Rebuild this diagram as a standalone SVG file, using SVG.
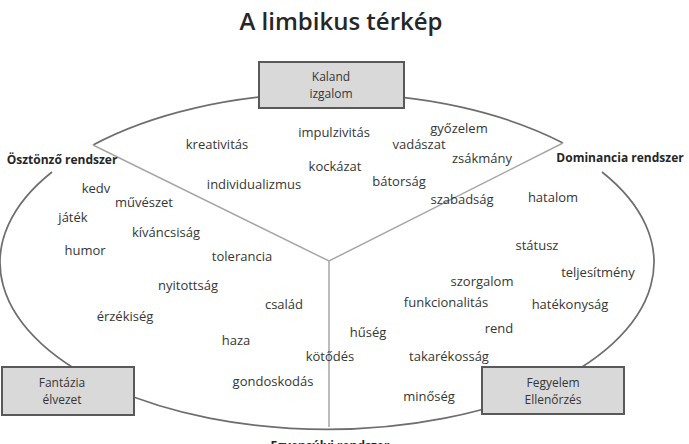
<svg xmlns="http://www.w3.org/2000/svg" width="689" height="444" viewBox="0 0 689 444">
<style>
.w{font-family:"Open Sans","Liberation Sans",sans-serif;font-size:13px;fill:#363636;text-anchor:middle}
.b{font-family:"Open Sans","Liberation Sans",sans-serif;font-size:12px;font-weight:bold;fill:#262626;text-anchor:middle}
.bx{fill:#d9d9d9;stroke:#595959;stroke-width:2}
.bt{font-family:"Open Sans","Liberation Sans",sans-serif;font-size:12px;fill:#363636;text-anchor:middle}
.el{fill:none;stroke:#6e6e6e;stroke-width:1.7}
.y{fill:none;stroke:#a6a6a6;stroke-width:1.5}
</style>
<rect width="689" height="444" fill="#fff"/>
<text x="341" y="30" font-family="'Open Sans','Liberation Sans',sans-serif" font-size="24" font-weight="600" fill="#262626" text-anchor="middle">A limbikus térkép</text>
<g id="connectors">
<path class="el" d="M93,145 A327,167 0 0,1 563,143"/>
<path class="el" d="M602,172 A327,167 0 1,1 52,172"/>
<path class="y" d="M93,145 L329,261 L563,143 M329,261 L329,427"/>
</g>
<g id="kaland"><rect class="bx" x="259" y="62" width="145" height="46"/><text class="bt" x="331" y="81">Kaland</text><text class="bt" x="331" y="98">izgalom</text></g>
<g id="fantazia"><rect class="bx" x="2" y="367" width="132" height="48"/><text class="bt" x="62" y="387">Fantázia</text><text class="bt" x="62" y="404">élvezet</text></g>
<g id="fegyelem"><rect class="bx" x="482" y="367" width="142" height="47"/><text class="bt" x="553" y="387">Fegyelem</text><text class="bt" x="553" y="404">Ellenőrzés</text></g>
<g id="osztonzo"><text class="b" x="62" y="164">Ösztönző rendszer</text></g>
<g id="dominancia"><text class="b" x="620" y="162">Dominancia rendszer</text></g>
<g id="egyensulyi"><text class="b" x="330" y="450">Egyensúlyi rendszer</text></g>
<g id="words">
<text class="w" x="217" y="149">kreativitás</text>
<text class="w" x="334" y="137">impulzivitás</text>
<text class="w" x="459" y="133">győzelem</text>
<text class="w" x="419" y="149">vadászat</text>
<text class="w" x="482" y="163">zsákmány</text>
<text class="w" x="335" y="171">kockázat</text>
<text class="w" x="399" y="186">bátorság</text>
<text class="w" x="254" y="189">individualizmus</text>
<text class="w" x="462" y="204">szabadság</text>
<text class="w" x="553" y="202">hatalom</text>
<text class="w" x="96" y="193">kedv</text>
<text class="w" x="144" y="207">művészet</text>
<text class="w" x="73" y="222">játék</text>
<text class="w" x="166" y="237">kíváncsiság</text>
<text class="w" x="85" y="255">humor</text>
<text class="w" x="242" y="261">tolerancia</text>
<text class="w" x="537" y="250">státusz</text>
<text class="w" x="598" y="277">teljesítmény</text>
<text class="w" x="188" y="290">nyitottság</text>
<text class="w" x="482" y="286">szorgalom</text>
<text class="w" x="284" y="309">család</text>
<text class="w" x="446" y="307">funkcionalitás</text>
<text class="w" x="570" y="309">hatékonyság</text>
<text class="w" x="125" y="321">érzékiség</text>
<text class="w" x="236" y="345">haza</text>
<text class="w" x="368" y="337">hűség</text>
<text class="w" x="499" y="333">rend</text>
<text class="w" x="330" y="361">kötődés</text>
<text class="w" x="449" y="361">takarékosság</text>
<text class="w" x="273" y="386">gondoskodás</text>
<text class="w" x="429" y="401">minőség</text>
</g>
</svg>
